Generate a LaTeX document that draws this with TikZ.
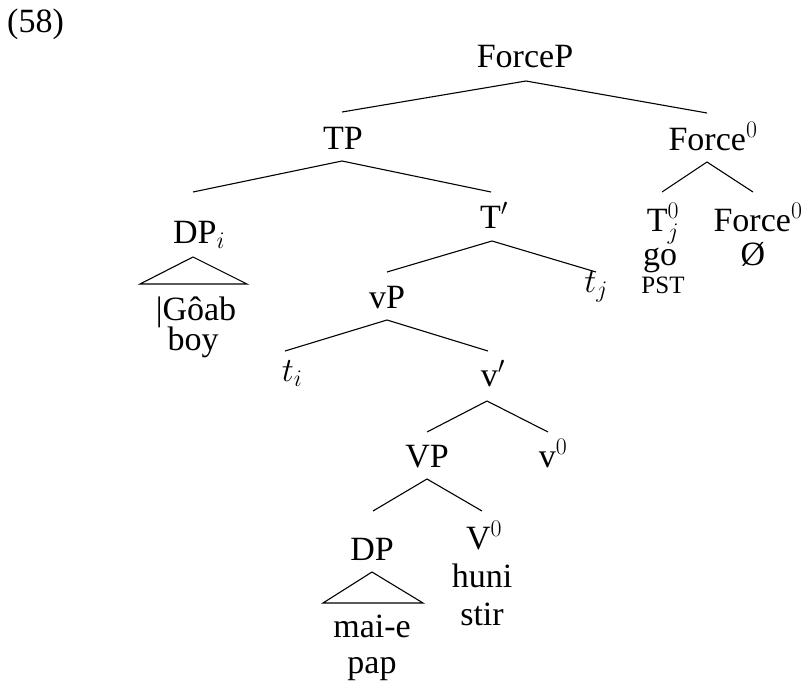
\documentclass[tikz,border=0pt]{standalone}
\usepackage{fix-cm}
\usepackage{fontspec}
\setmainfont{Liberation Serif}
\begin{document}
\begin{tikzpicture}[x=1pt,y=-1pt,
  lbl/.style={inner sep=0pt, anchor=base, font=\fontsize{34}{40}\selectfont},
  sclbl/.style={inner sep=0pt, anchor=base, font=\fontsize{25}{30}\selectfont},
  edge/.style={line width=1.1pt, line join=miter}]
\useasboundingbox (0,0) rectangle (801,685);
% example number
\node[lbl, anchor=base west] (ex) at (7,33) {(58)};
% labels
\node[lbl] (ForceP) at (525,68) {ForceP};
\node[lbl] (TP) at (343,149) {TP};
\node[lbl] (Force0) at (713,150) {Force$^0$};
\node[lbl] (DPi) at (199,243) {DP$_i$};
\node[lbl] (Goab) at (196,320) {|Gôab};
\node[lbl] (boy) at (193,350) {boy};
\node[lbl] (Tbar) at (494,228) {T$'$};
\node[lbl] (T0j) at (663,231) {T$^0_j$};
\node[lbl] (go) at (660,265) {go};
\node[sclbl] (pst) at (663,293) {PST};
\node[lbl] (Force0b) at (758,231) {Force$^0$};
\node[lbl] (empty) at (753,265) {Ø};
\node[lbl] (vP) at (387,308) {vP};
\node[lbl] (tj) at (596,292) {$t_j$};
\node[lbl] (ti) at (292,381) {$t_i$};
\node[lbl] (vbar) at (493,386) {v$'$};
\node[lbl] (VP) at (427,467) {VP};
\node[lbl] (v0) at (553,467) {v$^0$};
\node[lbl] (DP) at (372,560) {DP};
\node[lbl] (maie) at (372,637) {mai-e};
\node[lbl] (pap) at (372,673) {pap};
\node[lbl] (V0) at (484,549) {V$^0$};
\node[lbl] (huni) at (482,587) {huni};
\node[lbl] (stir) at (482,625) {stir};
% attachment points
\coordinate (ForceP-b) at (526,81);
\coordinate (TP-t) at (342,112);
\coordinate (TP-b) at (342,161);
\coordinate (Force0-t) at (707,113);
\coordinate (Force0-b) at (707,162);
\coordinate (DPi-t) at (193,192);
\coordinate (DPi-a) at (193,257);
\coordinate (DPi-l) at (140,284);
\coordinate (DPi-r) at (247,284);
\coordinate (Tbar-t) at (491,192);
\coordinate (Tbar-b) at (492,241);
\coordinate (T0j-t) at (662,192);
\coordinate (Force0b-t) at (753,192);
\coordinate (vP-t) at (387,272);
\coordinate (vP-b) at (387,320);
\coordinate (tj-t) at (596,272);
\coordinate (ti-t) at (285,351);
\coordinate (vbar-t) at (488,351);
\coordinate (vbar-b) at (487,401);
\coordinate (VP-t) at (427,432);
\coordinate (VP-b) at (427,479);
\coordinate (v0-t) at (548,432);
\coordinate (DP-t) at (373,511);
\coordinate (DP-a) at (372,572);
\coordinate (DP-l) at (323,603);
\coordinate (DP-r) at (423,603);
\coordinate (V0-t) at (482,511);
% edges
\draw[edge] (TP-t) -- (ForceP-b) -- (Force0-t);
\draw[edge] (DPi-t) -- (TP-b) -- (Tbar-t);
\draw[edge] (T0j-t) -- (Force0-b) -- (Force0b-t);
\draw[edge] (DPi-l) -- (DPi-a) -- (DPi-r) -- cycle;
\draw[edge] (vP-t) -- (Tbar-b) -- (tj-t);
\draw[edge] (ti-t) -- (vP-b) -- (vbar-t);
\draw[edge] (VP-t) -- (vbar-b) -- (v0-t);
\draw[edge] (DP-t) -- (VP-b) -- (V0-t);
\draw[edge] (DP-l) -- (DP-a) -- (DP-r) -- cycle;
\end{tikzpicture}
\end{document}
